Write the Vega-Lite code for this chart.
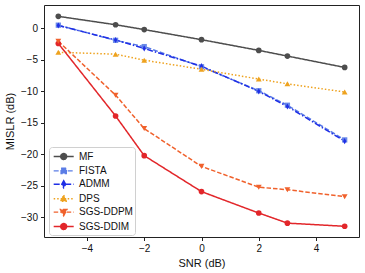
{
  "$schema": "https://vega.github.io/schema/vega-lite/v6.json",
  "width": 315,
  "height": 232,
  "autosize": {"type": "none"},
  "padding": {"left": 44, "top": 5, "right": 6, "bottom": 36},
  "background": "white",
  "config": {
    "view": {"stroke": "#222", "strokeWidth": 1},
    "font": "Liberation Sans",
    "axis": {"grid": false, "domain": false, "tickColor": "#222", "tickSize": 3.5, "labelFontSize": 10, "titleFontSize": 11, "titleFontWeight": "normal", "labelColor": "#111", "titleColor": "#111", "labelFont": "Liberation Sans", "titleFont": "Liberation Sans"},
    "legend": {"orient": "none", "legendX": 5, "legendY": 142, "fillColor": "white", "strokeColor": "#d0d0d0", "cornerRadius": 3, "padding": 2, "symbolSize": 169, "symbolStrokeWidth": 1.4, "symbolOpacity": 1, "rowPadding": 0.4, "labelOffset": 13, "labelFontSize": 10, "labelFont": "Liberation Sans", "labelColor": "#111"}
  },
  "data": {"values": [
    {"method": "MF", "snr": -5, "mislr": 1.9}, {"method": "MF", "snr": -3, "mislr": 0.57}, {"method": "MF", "snr": -2, "mislr": -0.2}, {"method": "MF", "snr": 0, "mislr": -1.8}, {"method": "MF", "snr": 2, "mislr": -3.5}, {"method": "MF", "snr": 3, "mislr": -4.4}, {"method": "MF", "snr": 5, "mislr": -6.2},
    {"method": "FISTA", "snr": -5, "mislr": 0.5}, {"method": "FISTA", "snr": -3, "mislr": -1.9}, {"method": "FISTA", "snr": -2, "mislr": -2.9}, {"method": "FISTA", "snr": 0, "mislr": -6.1}, {"method": "FISTA", "snr": 2, "mislr": -9.9}, {"method": "FISTA", "snr": 3, "mislr": -12.2}, {"method": "FISTA", "snr": 5, "mislr": -17.7},
    {"method": "ADMM", "snr": -5, "mislr": 0.45}, {"method": "ADMM", "snr": -3, "mislr": -1.85}, {"method": "ADMM", "snr": -2, "mislr": -3.2}, {"method": "ADMM", "snr": 0, "mislr": -6.0}, {"method": "ADMM", "snr": 2, "mislr": -10.0}, {"method": "ADMM", "snr": 3, "mislr": -12.4}, {"method": "ADMM", "snr": 5, "mislr": -17.9},
    {"method": "DPS", "snr": -5, "mislr": -3.8}, {"method": "DPS", "snr": -3, "mislr": -4.1}, {"method": "DPS", "snr": -2, "mislr": -5.05}, {"method": "DPS", "snr": 0, "mislr": -6.5}, {"method": "DPS", "snr": 2, "mislr": -8.05}, {"method": "DPS", "snr": 3, "mislr": -8.8}, {"method": "DPS", "snr": 5, "mislr": -10.1},
    {"method": "SGS-DDPM", "snr": -5, "mislr": -2.05}, {"method": "SGS-DDPM", "snr": -3, "mislr": -10.6}, {"method": "SGS-DDPM", "snr": -2, "mislr": -15.9}, {"method": "SGS-DDPM", "snr": 0, "mislr": -21.9}, {"method": "SGS-DDPM", "snr": 2, "mislr": -25.2}, {"method": "SGS-DDPM", "snr": 3, "mislr": -25.6}, {"method": "SGS-DDPM", "snr": 5, "mislr": -26.7},
    {"method": "SGS-DDIM", "snr": -5, "mislr": -2.4}, {"method": "SGS-DDIM", "snr": -3, "mislr": -13.9}, {"method": "SGS-DDIM", "snr": -2, "mislr": -20.2}, {"method": "SGS-DDIM", "snr": 0, "mislr": -25.9}, {"method": "SGS-DDIM", "snr": 2, "mislr": -29.3}, {"method": "SGS-DDIM", "snr": 3, "mislr": -30.9}, {"method": "SGS-DDIM", "snr": 5, "mislr": -31.4}
  ]},
  "encoding": {
    "x": {"field": "snr", "type": "quantitative", "title": "SNR (dB)", "scale": {"domain": [-5.5, 5.5], "nice": false, "zero": false}, "axis": {"values": [-4, -2, 0, 2, 4], "format": "d", "labelPadding": 3, "titlePadding": 4}},
    "y": {"field": "mislr", "type": "quantitative", "title": "MISLR (dB)", "scale": {"domain": [-33.1, 3.7], "nice": false, "zero": false}, "axis": {"values": [-30, -25, -20, -15, -10, -5, 0], "format": "d", "labelPadding": 3, "titlePadding": 5}},
    "color": {"field": "method", "type": "nominal", "title": null, "scale": {"domain": ["MF", "FISTA", "ADMM", "DPS", "SGS-DDPM", "SGS-DDIM"], "range": ["#4d4d4d", "#5b7de6", "#1f2fe6", "#eea21e", "#f0612c", "#e2262a"]}}
  },
  "layer": [
    {
      "mark": {"type": "point", "filled": true, "opacity": 0},
      "encoding": {
        "shape": {"field": "method", "type": "nominal", "title": null, "scale": {"domain": ["MF", "FISTA", "ADMM", "DPS", "SGS-DDPM", "SGS-DDIM"], "range": [
          "M-0.74,0H2.34M1.26,0A0.46,0.46,0,1,1,0.34,0A0.46,0.46,0,1,1,1.26,0Z",
          "M-0.74,0H2.34M0.4,-0.4H1.2V0.4H0.4Z",
          "M-0.74,0H2.34M0.8,-0.55L1.1,0L0.8,0.55L0.5,0Z",
          "M-0.74,0H2.34M0.8,-0.55L1.3,0.4L0.3,0.4Z",
          "M-0.74,0H2.34M0.8,0.55L1.3,-0.4L0.3,-0.4Z",
          "M-0.74,0H2.34M1.26,0A0.46,0.46,0,1,1,0.34,0A0.46,0.46,0,1,1,1.26,0Z"
        ]}},
        "stroke": {"field": "method", "type": "nominal", "title": null, "scale": {"domain": ["MF", "FISTA", "ADMM", "DPS", "SGS-DDPM", "SGS-DDIM"], "range": ["#4d4d4d", "#5b7de6", "#1f2fe6", "#eea21e", "#f0612c", "#e2262a"]}},
        "strokeDash": {"field": "method", "type": "nominal", "title": null}
      }
    },
    {
      "mark": {"type": "line", "strokeWidth": 1.5},
      "encoding": {
        "strokeDash": {"field": "method", "type": "nominal", "title": null, "scale": {"domain": ["MF", "FISTA", "ADMM", "DPS", "SGS-DDPM", "SGS-DDIM"], "range": [[1, 0], [5, 2], [6, 2, 1.5, 2], [1.5, 2], [4.5, 2], [1, 0]]}}
      }
    },
    {
      "transform": [{"filter": {"field": "method", "oneOf": ["MF", "SGS-DDIM"]}}],
      "mark": {"type": "point", "filled": true, "size": 32, "opacity": 1, "shape": "circle"}
    },
    {
      "transform": [{"filter": {"field": "method", "equal": "FISTA"}}],
      "mark": {"type": "point", "filled": true, "size": 28, "opacity": 0.9, "shape": "square"}
    },
    {
      "transform": [{"filter": {"field": "method", "equal": "ADMM"}}],
      "mark": {"type": "point", "filled": true, "size": 32, "opacity": 1, "shape": "M0,-1.1L0.6,0L0,1.1L-0.6,0Z"}
    },
    {
      "transform": [{"filter": {"field": "method", "equal": "DPS"}}],
      "mark": {"type": "point", "filled": true, "size": 34, "opacity": 1, "shape": "triangle-up"}
    },
    {
      "transform": [{"filter": {"field": "method", "equal": "SGS-DDPM"}}],
      "mark": {"type": "point", "filled": true, "size": 34, "opacity": 1, "shape": "triangle-down"}
    }
  ]
}
